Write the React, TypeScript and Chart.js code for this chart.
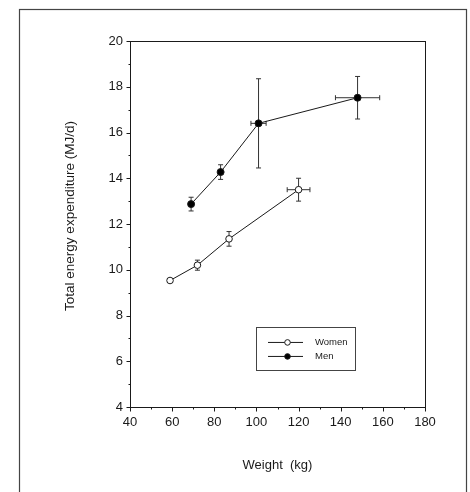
import React, { useEffect, useRef } from 'react';
import { Chart, registerables } from 'chart.js';

Chart.register(...registerables);

// ---- data ----
const womenWeight = [59, 72, 87, 120];
const womenTEE = [9.53, 10.2, 11.35, 13.5];
const womenErrY = [0.08, 0.22, 0.32, 0.5];
const womenErrX = [0, 0, 0, 5.4];

const menWeight = [69, 83, 101, 148];
const menTEE = [12.87, 14.27, 16.4, 17.52];
const menErrY = [0.3, 0.32, 1.95, 0.93];
const menErrX = [0, 0, 3.6, 10.5];

const xTickValues = [40, 60, 80, 100, 120, 140, 160, 180];
const yTickValues = [4, 6, 8, 10, 12, 14, 16, 18, 20];
const seriesNames = ['Women', 'Men'];
const yTitle = 'Total energy expenditure (MJ/d)';
const xTitle = 'Weight  (kg)';

const INK = '#1a1a1a';
const FONT = "'Liberation Sans', Arial, Helvetica, sans-serif";

const errorBarPlugin = {
  id: 'errorBars',
  beforeDatasetsDraw(chart: any) {
    const { ctx } = chart;
    const xs = chart.scales.x;
    const ys = chart.scales.y;
    ctx.save();
    ctx.strokeStyle = '#333';
    ctx.lineWidth = 1;
    chart.data.datasets.forEach((ds: any) => {
      ds.data.forEach((p: any, i: number) => {
        const ey = ds.errY[i];
        const ex = ds.errX[i];
        const cx = xs.getPixelForValue(p.x);
        const cy = ys.getPixelForValue(p.y);
        if (ey > 0) {
          const t = ys.getPixelForValue(p.y + ey);
          const b = ys.getPixelForValue(p.y - ey);
          ctx.beginPath();
          ctx.moveTo(cx, t); ctx.lineTo(cx, b);
          ctx.moveTo(cx - 2.5, t); ctx.lineTo(cx + 2.5, t);
          ctx.moveTo(cx - 2.5, b); ctx.lineTo(cx + 2.5, b);
          ctx.stroke();
        }
        if (ex > 0) {
          const l = xs.getPixelForValue(p.x - ex);
          const r = xs.getPixelForValue(p.x + ex);
          ctx.beginPath();
          ctx.moveTo(l, cy); ctx.lineTo(r, cy);
          ctx.moveTo(l, cy - 2.5); ctx.lineTo(l, cy + 2.5);
          ctx.moveTo(r, cy - 2.5); ctx.lineTo(r, cy + 2.5);
          ctx.stroke();
        }
      });
    });
    ctx.restore();
  },
};

const framePlugin = {
  id: 'frame',
  beforeDraw(chart: any) {
    const { ctx, width, height } = chart;
    ctx.save();
    ctx.fillStyle = '#fff';
    ctx.fillRect(0, 0, width, height);
    ctx.restore();
  },
  afterDraw(chart: any) {
    const { ctx, chartArea: a } = chart;
    const xs = chart.scales.x;
    const ys = chart.scales.y;
    ctx.save();
    // outer figure frame
    ctx.strokeStyle = '#444';
    ctx.lineWidth = 1.2;
    ctx.strokeRect(19.5, 9.5, 447, 520);
    // plot box
    ctx.strokeStyle = INK;
    ctx.lineWidth = 1;
    const L = Math.round(a.left) + 0.5;
    const T = Math.round(a.top) + 0.5;
    const R = Math.round(a.right) + 0.5;
    const B = Math.round(a.bottom) + 0.5;
    ctx.strokeRect(L, T, R - L, B - T);
    // ticks (major + minor, outward)
    ctx.beginPath();
    for (let v = xs.min; v <= xs.max + 0.001; v += 10) {
      const px = Math.round(xs.getPixelForValue(v)) + 0.5;
      const len = v % 20 === 0 ? 4 : 2;
      ctx.moveTo(px, B); ctx.lineTo(px, B + len);
    }
    for (let v = ys.min; v <= ys.max + 0.001; v += 1) {
      const py = Math.round(ys.getPixelForValue(v)) + 0.5;
      const len = v % 2 === 0 ? 4 : 2;
      ctx.moveTo(L, py); ctx.lineTo(L - len, py);
    }
    ctx.stroke();

    // y-axis title (placed as in the reference, slightly above centre)
    ctx.save();
    ctx.translate(70, 216);
    ctx.rotate(-Math.PI / 2);
    ctx.fillStyle = INK;
    ctx.font = `13.5px ${FONT}`;
    ctx.textAlign = 'center';
    ctx.textBaseline = 'middle';
    ctx.fillText(yTitle, 0, 0);
    ctx.restore();

    // legend box
    const bx0 = xs.getPixelForValue(99.8);
    const bx1 = xs.getPixelForValue(146.8);
    const by0 = ys.getPixelForValue(7.5);
    const by1 = ys.getPixelForValue(5.62);
    ctx.strokeStyle = '#444';
    ctx.strokeRect(Math.round(bx0) + 0.5, Math.round(by0) + 0.5, Math.round(bx1 - bx0), Math.round(by1 - by0));
    const rowY = [by0 + 15.5, by0 + 29.5];
    chart.data.datasets.forEach((ds: any, i: number) => {
      const y = rowY[i];
      ctx.strokeStyle = INK;
      ctx.lineWidth = 1;
      ctx.beginPath();
      ctx.moveTo(bx0 + 12, y); ctx.lineTo(bx0 + 47, y);
      ctx.stroke();
      ctx.beginPath();
      ctx.arc(bx0 + 31.5, y, 2.8, 0, Math.PI * 2);
      ctx.fillStyle = ds.pointBackgroundColor;
      ctx.fill();
      ctx.stroke();
      ctx.fillStyle = INK;
      ctx.font = `9.5px ${FONT}`;
      ctx.textBaseline = 'middle';
      ctx.textAlign = 'left';
      ctx.fillText(ds.label, bx0 + 59, y);
    });
    ctx.restore();
  },
};

export default function App() {
  const ref = useRef<HTMLCanvasElement | null>(null);

  useEffect(() => {
    if (!ref.current) return;
    const chart = new Chart(ref.current, {
      type: 'line',
      data: {
        datasets: [
          {
            label: seriesNames[0],
            data: womenWeight.map((w, i) => ({ x: w, y: womenTEE[i] })),
            errX: womenErrX,
            errY: womenErrY,
            borderColor: INK,
            borderWidth: 1,
            pointBackgroundColor: '#fff',
            pointBorderColor: INK,
            pointBorderWidth: 1,
            pointRadius: 3.3,
            tension: 0,
            fill: false,
          } as any,
          {
            label: seriesNames[1],
            data: menWeight.map((w, i) => ({ x: w, y: menTEE[i] })),
            errX: menErrX,
            errY: menErrY,
            borderColor: INK,
            borderWidth: 1,
            pointBackgroundColor: '#000',
            pointBorderColor: INK,
            pointBorderWidth: 1,
            pointRadius: 3.5,
            tension: 0,
            fill: false,
          } as any,
        ],
      },
      options: {
        animation: false,
        responsive: false,
        events: [],
        layout: { padding: { left: 0, top: 41, right: 45, bottom: 0 } },
        plugins: { legend: { display: false }, tooltip: { enabled: false } },
        scales: {
          x: {
            type: 'linear',
            min: 40,
            max: 180,
            afterBuildTicks: (s: any) => { s.ticks = xTickValues.map((v) => ({ value: v })); },
            afterFit: (s: any) => { s.height = 85; },
            grid: { display: false, drawTicks: false, tickLength: 0 },
            border: { display: false },
            ticks: { color: INK, font: { family: FONT, size: 13 }, padding: 8, maxRotation: 0, autoSkip: false },
            title: {
              display: true,
              text: xTitle,
              color: INK,
              font: { family: FONT, size: 13 },
              padding: { top: 0, bottom: 19 },
            },
          },
          y: {
            type: 'linear',
            min: 4,
            max: 20,
            afterBuildTicks: (s: any) => { s.ticks = yTickValues.map((v) => ({ value: v })); },
            afterFit: (s: any) => { s.width = 130; },
            grid: { display: false, drawTicks: false, tickLength: 0 },
            border: { display: false },
            ticks: { color: INK, font: { family: FONT, size: 13 }, padding: 7, autoSkip: false },
            title: { display: false },
          },
        },
      } as any,
      plugins: [errorBarPlugin, framePlugin],
    });
    return () => chart.destroy();
  }, []);

  return (
    <div style={{ position: 'fixed', left: 0, top: 0, width: 470, height: 492, background: '#fff' }}>
      <canvas ref={ref} width={470} height={492} style={{ display: 'block' }} />
    </div>
  );
}
